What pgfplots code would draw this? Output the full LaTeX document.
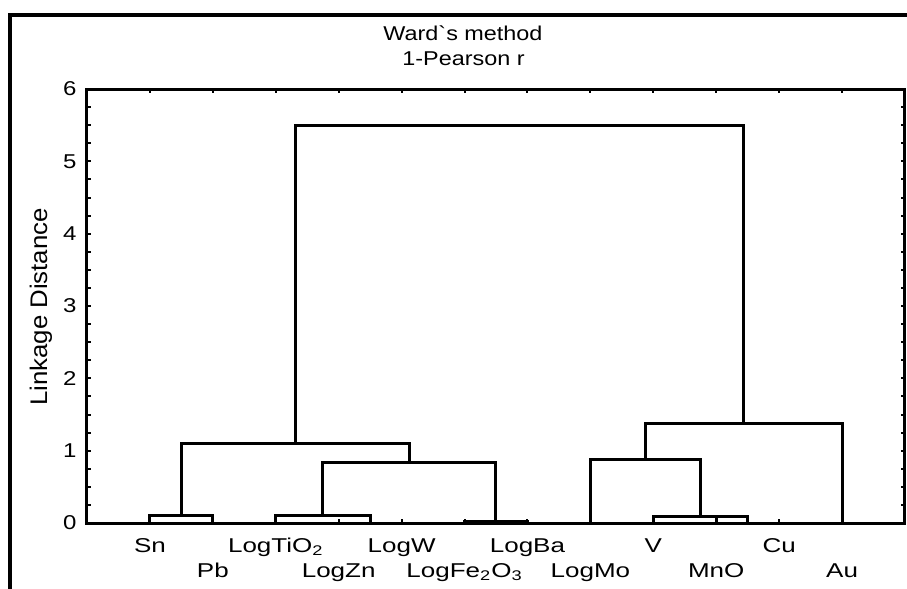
\documentclass[border=0pt]{standalone}
\usepackage{fontspec}
\setmainfont{Liberation Sans}
\newfontfamily\lblfont[FakeStretch=1.3]{Liberation Sans}
\newfontfamily\tickfont[FakeStretch=1.2]{Liberation Sans}
\newfontfamily\ttlfont[FakeStretch=1.17]{Liberation Sans}
\newfontfamily\ylfont[FakeStretch=1.075]{Liberation Sans}
\usepackage{pgfplots}
\pgfplotsset{compat=1.18}
\begin{document}
\begin{tikzpicture}
\path[use as bounding box] (0,0) rectangle (453.5pt,-294.5pt);
\begin{scope}
\clip (0,0) rectangle (453.5pt,-294.5pt);
\draw[line width=2pt] (5pt,-7.5pt) rectangle (600pt,-400pt);
\end{scope}
\node[font=\ttlfont\fontsize{10}{12}\selectfont, anchor=base] at (231.5pt,-20pt) {Ward\symbol{96}s method};
\node[font=\ttlfont\fontsize{10}{12}\selectfont, anchor=base] at (231.75pt,-32.5pt) {1-Pearson r};
\node[font=\ylfont\fontsize{12}{14}\selectfont, rotate=90, anchor=base] at (23.5pt,-153.5pt) {Linkage Distance};
\begin{axis}[
  at={(43.5pt,-261.5pt)}, anchor=south west,
  scale only axis, width=409pt, height=217pt,
  xmin=0, xmax=13, ymin=0, ymax=6,
  ytick={0,1,2,3,4,5,6}, minor y tick num=3,
  xtick={1,2,3,4,5,6,7,8,9,10,11,12},
  xticklabels={Sn,\raisebox{-12.5pt}{Pb},LogTiO\textsubscript{2},\raisebox{-12.5pt}{LogZn},LogW,\raisebox{-12.5pt}{LogFe\textsubscript{2}O\textsubscript{3}},LogBa,\raisebox{-12.5pt}{LogMo},V,\raisebox{-12.5pt}{MnO},Cu,\raisebox{-12.5pt}{Au}},
  xticklabel style={font=\lblfont\fontsize{10}{12}\selectfont, anchor=base, yshift=-14.5pt, inner sep=0pt},
  yticklabel style={font=\tickfont\fontsize{10}{12}\selectfont, anchor=east, inner sep=0pt, xshift=-5pt},
  /pgf/number format/assume math mode=true,
  tick align=inside,
  major tick length=2.2pt, minor tick length=2.2pt,
  tick style={line width=1pt, black},
  axis line style={line width=1.5pt},
  lnk/.style={black, solid, line width=1.5pt, line join=miter, mark=none},
  clip=false,
]
% Sn-Pb
\addplot[lnk] coordinates {(1,0) (1,0.11) (2,0.11) (2,0)};
% LogZn-LogW
\addplot[lnk] coordinates {(4,0) (4,0) (5,0) (5,0)};
% LogTiO2-(LogZn,LogW)
\addplot[lnk] coordinates {(3,0) (3,0.11) (4.5,0.11) (4.5,0)};
% LogFe2O3-LogBa
\addplot[lnk] coordinates {(6,0) (6,0.02) (7,0.02) (7,0)};
% (TiO2,Zn,W)-(Fe2O3,Ba)
\addplot[lnk] coordinates {(3.75,0.11) (3.75,0.83) (6.5,0.83) (6.5,0.02)};
% (Sn,Pb)-(...)
\addplot[lnk] coordinates {(1.5,0.11) (1.5,1.10) (5.125,1.10) (5.125,0.83)};
% MnO-Cu
\addplot[lnk] coordinates {(10,0) (10,0) (11,0) (11,0)};
% V-(MnO,Cu)
\addplot[lnk] coordinates {(9,0) (9,0.085) (10.5,0.085) (10.5,0)};
\addplot[lnk] coordinates {(10,0) (10,0.085)};
% LogMo-(V,MnO,Cu)
\addplot[lnk] coordinates {(8,0) (8,0.88) (9.75,0.88) (9.75,0.085)};
% (...)-Au
\addplot[lnk] coordinates {(8.875,0.88) (8.875,1.38) (12,1.38) (12,0)};
% top join
\addplot[lnk] coordinates {(3.3125,1.10) (3.3125,5.50) (10.4375,5.50) (10.4375,1.38)};
\end{axis}
\end{tikzpicture}
\end{document}
